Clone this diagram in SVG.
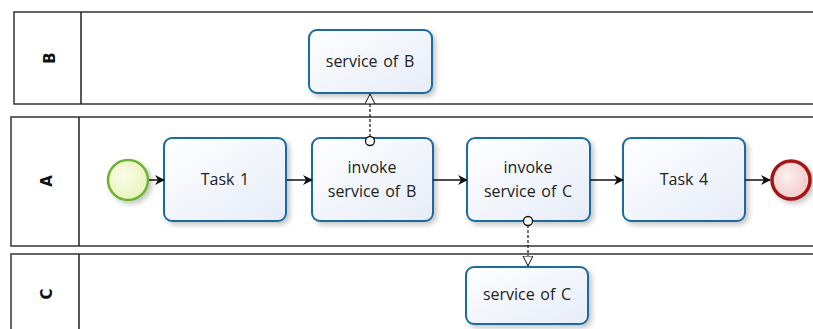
<svg xmlns="http://www.w3.org/2000/svg" width="813" height="329" viewBox="0 0 813 329">
<style>
.pool{fill:#fff;stroke:#333;stroke-width:1.5}
.div{stroke:#222;stroke-width:1.5}
.plabel{font-family:"DejaVu Sans",sans-serif;font-size:15px;font-weight:bold;fill:#111;text-anchor:middle}
.task{fill:url(#tg);stroke:#1a6b9e;stroke-width:2;filter:url(#sh)}
.lbl{font-family:"Open Sans","DejaVu Sans",sans-serif;font-size:16px;word-spacing:1.5px;fill:#222;text-anchor:middle}
.flow{stroke:#111;stroke-width:1.5;fill:none;marker-end:url(#ah)}
.assoc{stroke:#111;stroke-width:1.2;fill:none;stroke-dasharray:3,2;marker-end:url(#oh)}
.ac{fill:#fff;stroke:#111;stroke-width:1.3}
</style>
<defs>
<linearGradient id="tg" x1="0" y1="0" x2="1" y2="1"><stop offset="0" stop-color="#ffffff"/><stop offset="1" stop-color="#e6ecf8"/></linearGradient>
<radialGradient id="sg" cx="0.4" cy="0.4" r="0.7"><stop offset="0" stop-color="#fbfde8"/><stop offset="1" stop-color="#e6f2b8"/></radialGradient>
<radialGradient id="eg" cx="0.4" cy="0.4" r="0.7"><stop offset="0" stop-color="#fdf0f0"/><stop offset="1" stop-color="#f2c4c4"/></radialGradient>
<filter id="sh" x="-20%" y="-20%" width="150%" height="150%"><feDropShadow dx="3" dy="3" stdDeviation="2.5" flood-color="#000" flood-opacity="0.22"/></filter>
<marker id="ah" markerWidth="10" markerHeight="10" refX="9" refY="5" orient="auto" markerUnits="userSpaceOnUse"><path d="M0,0 L10,5 L0,10 L3,5 Z" fill="#111"/></marker>
<marker id="oh" markerWidth="12" markerHeight="12" refX="10" refY="5" orient="auto" markerUnits="userSpaceOnUse"><path d="M0,0 L10,5 L0,10 Z" fill="#fff" stroke="#111" stroke-width="1"/></marker>
</defs>

<g id="poolB">
<rect class="pool" x="14" y="12" width="820" height="92"/>
<line class="div" x1="81" y1="12" x2="81" y2="104"/>
<text class="plabel" transform="translate(49,58) rotate(-90)" dy="5.5">B</text>
</g>
<g id="poolA">
<rect class="pool" x="11" y="117" width="820" height="129"/>
<line class="div" x1="79" y1="117" x2="79" y2="246"/>
<text class="plabel" transform="translate(46,181) rotate(-90)" dy="5.5">A</text>
</g>
<g id="poolC">
<rect class="pool" x="11" y="254" width="820" height="100"/>
<line class="div" x1="79" y1="254" x2="79" y2="340"/>
<text class="plabel" transform="translate(46,294) rotate(-90)" dy="5.5">C</text>
</g>

<g id="start"><circle cx="128" cy="180" r="20" fill="url(#sg)" stroke="#6db42e" stroke-width="2.5" filter="url(#sh)"/></g>
<g id="task1"><rect class="task" x="164" y="138" width="122" height="83" rx="8"/><text class="lbl" x="225" y="185">Task 1</text></g>
<g id="invokeB"><rect class="task" x="312" y="138" width="121" height="83" rx="8"/><text class="lbl" x="372" y="173">invoke</text><text class="lbl" x="372" y="197">service of B</text></g>
<g id="invokeC"><rect class="task" x="467" y="138" width="123" height="83" rx="8"/><text class="lbl" x="528" y="173">invoke</text><text class="lbl" x="528" y="197">service of C</text></g>
<g id="task4"><rect class="task" x="623" y="138" width="122" height="83" rx="8"/><text class="lbl" x="684" y="185">Task 4</text></g>
<g id="end"><circle cx="791" cy="180" r="19" fill="url(#eg)" stroke="#a31515" stroke-width="3.5" filter="url(#sh)"/></g>
<g id="serviceB"><rect class="task" x="309" y="30" width="123" height="63" rx="8"/><text class="lbl" x="370" y="67">service of B</text></g>
<g id="serviceC"><rect class="task" x="466" y="267" width="122" height="57" rx="8"/><text class="lbl" x="527" y="300">service of C</text></g>

<g id="connectors">
<line class="flow" x1="149" y1="180" x2="164" y2="180"/>
<line class="flow" x1="287" y1="180" x2="312" y2="180"/>
<line class="flow" x1="433" y1="180" x2="467" y2="180"/>
<line class="flow" x1="590" y1="180" x2="623" y2="180"/>
<line class="flow" x1="745" y1="180" x2="770" y2="180"/>
<line class="assoc" x1="370" y1="137" x2="370" y2="94"/>
<circle class="ac" cx="370" cy="141" r="4.5"/>
<line class="assoc" x1="528" y1="225" x2="528" y2="266"/>
<circle class="ac" cx="528" cy="221" r="4.5"/>
</g>
</svg>
